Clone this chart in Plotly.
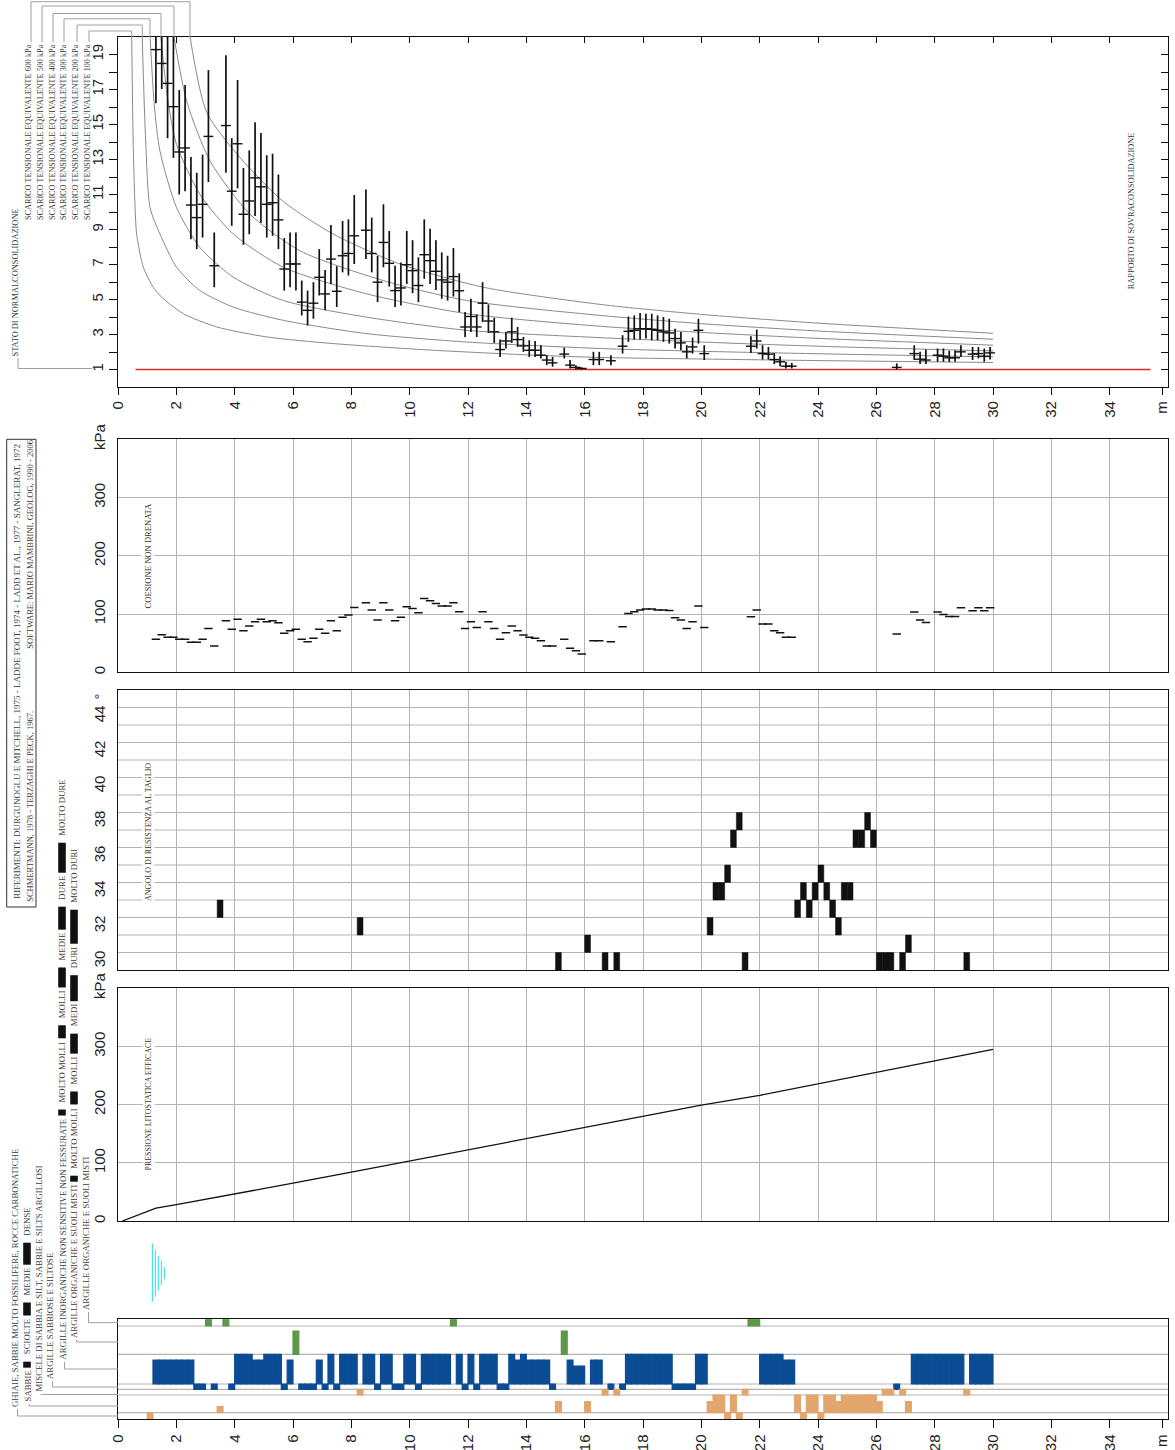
import plotly.graph_objects as go

W, H = 1175, 1450


def X(p):
    return p / W


def Y(p):
    return 1 - p / H


# ---------------- dati ----------------
# rapporto di sovraconsolidazione (OCR) con intervallo min/max
ocr_depth = [1.3, 1.5, 1.7, 1.9, 2.1, 2.3, 2.5, 2.7, 2.9, 3.1, 3.3, 3.7, 3.9, 4.1, 4.3, 4.5, 4.7, 4.9,
             5.1, 5.3, 5.5, 5.7, 5.9, 6.1, 6.3, 6.5, 6.7, 6.9, 7.1, 7.3, 7.5, 7.7, 7.9, 8.1, 8.5, 8.7,
             8.9, 9.1, 9.3, 9.5, 9.7, 9.9, 10.1, 10.3, 10.5, 10.7, 10.9, 11.1, 11.3, 11.5, 11.7, 11.9,
             12.1, 12.3, 12.5, 12.7, 12.9, 13.1, 13.3, 13.5, 13.7, 13.9, 14.1, 14.3, 14.5, 14.7, 14.9,
             15.3, 15.5, 15.7, 15.9, 16.3, 16.5, 16.9, 17.3, 17.5, 17.7, 17.9, 18.1, 18.3, 18.5, 18.7,
             18.9, 19.1, 19.3, 19.5, 19.7, 19.9, 20.1, 21.7, 21.9, 22.1, 22.3, 22.5, 22.7, 22.9, 23.1,
             26.7, 27.3, 27.5, 27.7, 28.1, 28.3, 28.5, 28.7, 28.9, 29.3, 29.5, 29.7, 29.9]
ocr_val = [19.28, 18.49, 17.35, 16.02, 13.43, 13.66, 10.40, 9.68, 10.44, 14.32, 6.93, 14.94, 11.19, 13.90,
           9.87, 10.63, 11.95, 11.44, 10.44, 10.53, 9.55, 6.74, 7.03, 7.03, 4.85, 4.38, 4.79, 6.27, 5.32,
           7.31, 5.47, 7.50, 7.63, 8.64, 8.96, 7.63, 5.99, 8.26, 7.07, 5.51, 5.66, 6.99, 6.65, 5.80, 7.56,
           7.22, 6.61, 6.12, 5.99, 6.31, 5.50, 3.43, 4.03, 3.43, 4.79, 3.77, 3.15, 2.14, 2.63, 3.15, 2.71,
           2.35, 2.10, 2.10, 1.82, 1.54, 1.38, 1.88, 1.25, 1.12, 1.06, 1.57, 1.57, 1.50, 2.33, 3.18, 3.24,
           3.33, 3.33, 3.30, 3.24, 3.15, 3.09, 2.77, 2.52, 2.01, 2.29, 3.24, 1.91, 2.33, 2.63, 1.91, 1.88,
           1.57, 1.44, 1.19, 1.19, 1.12, 1.91, 1.59, 1.54, 1.82, 1.76, 1.67, 1.67, 2.01, 1.88, 1.91, 1.76,
           1.95]
ocr_lo = [16.21, 17.03, 14.22, 13.09, 11.00, 11.19, 8.45, 7.88, 8.54, 11.71, 5.70, 12.24, 9.21, 11.35,
          8.13, 8.73, 9.77, 9.39, 8.54, 8.64, 7.88, 5.51, 5.70, 5.51, 4.09, 3.52, 3.90, 5.23, 4.38, 5.89,
          4.57, 6.55, 6.37, 7.03, 7.31, 6.55, 4.85, 6.84, 5.74, 4.57, 4.66, 5.89, 5.36, 4.85, 6.18, 5.89,
          5.55, 5.04, 4.94, 5.17, 4.28, 2.86, 3.15, 2.86, 3.71, 3.09, 2.52, 1.72, 2.20, 2.52, 2.29, 2.01,
          1.72, 1.72, 1.63, 1.25, 1.16, 1.63, 1.06, 1.00, 1.00, 1.25, 1.25, 1.25, 1.91, 2.58, 2.71, 2.71,
          2.77, 2.67, 2.67, 2.58, 2.48, 2.20, 2.10, 1.63, 1.91, 2.48, 1.54, 1.95, 2.20, 1.57, 1.57, 1.31,
          1.19, 1.06, 1.06, 1.00, 1.54, 1.31, 1.31, 1.44, 1.44, 1.44, 1.44, 1.72, 1.54, 1.63, 1.44, 1.57]
ocr_hi = [21.0, 21.0, 21.0, 21.0, 16.97, 17.26, 13.15, 12.24, 13.28, 18.11, 8.83, 18.96, 14.22, 17.54,
          12.52, 13.52, 15.13, 14.51, 13.24, 13.33, 12.14, 8.51, 8.83, 8.83, 6.08, 5.51, 5.99, 7.88, 6.69,
          9.26, 6.90, 9.49, 9.58, 10.97, 11.29, 9.68, 7.50, 10.44, 8.92, 6.93, 7.12, 8.92, 8.39, 7.41, 9.58,
          9.05, 8.39, 7.69, 7.50, 7.94, 6.50, 4.28, 5.04, 4.15, 5.99, 4.72, 3.96, 2.71, 3.15, 3.96, 3.43,
          2.86, 2.67, 2.63, 2.39, 1.82, 1.72, 2.25, 1.54, 1.25, 1.12, 2.01, 2.01, 1.82, 2.96, 4.03, 4.09,
          4.23, 4.19, 4.19, 4.09, 4.00, 3.90, 3.33, 3.15, 2.39, 2.82, 3.90, 2.39, 2.90, 3.28, 2.39, 2.29,
          1.95, 1.76, 1.44, 1.38, 1.35, 2.39, 2.01, 2.14, 2.20, 2.20, 2.07, 2.10, 2.39, 2.29, 2.29, 2.20,
          2.29]

# curve di scarico tensionale equivalente
sc100_depth = [0.47, 0.52, 0.58, 0.64, 0.87, 1.21, 1.50, 2.24, 3.39, 5.10, 7.39, 10.82, 14.25, 16.53, 20, 24, 30]
sc100_ocr = [20, 14.0, 10.5, 8.74, 6.84, 5.70, 5.13, 4.19, 3.43, 2.86, 2.48, 2.10, 1.82, 1.69, 1.60, 1.51, 1.40]
sc200_depth = [0.83, 0.95, 1.10, 1.44, 2.01, 2.81, 3.96, 5.67, 8.53, 11.96, 16.53, 20, 24, 30]
sc200_ocr = [20, 14.0, 10.24, 8.74, 6.84, 5.51, 4.56, 3.81, 3.05, 2.57, 2.20, 2.04, 1.90, 1.72]
sc300_depth = [1.10, 1.25, 1.44, 2.01, 2.81, 3.96, 5.67, 8.53, 11.96, 16.53, 20, 24, 30]
sc300_ocr = [20, 16.0, 13.47, 10.24, 7.97, 6.27, 4.94, 3.99, 3.24, 2.82, 2.57, 2.33, 2.06]
sc400_depth = [1.47, 1.70, 2.01, 2.81, 3.96, 5.67, 8.53, 11.96, 16.53, 20, 24, 30]
sc400_ocr = [20, 16.5, 13.85, 11.0, 8.73, 6.84, 5.32, 4.19, 3.47, 3.12, 2.78, 2.39]
sc500_depth = [1.92, 2.36, 3.16, 4.53, 6.24, 9.10, 11.96, 16.53, 20, 24, 30]
sc500_ocr = [20, 16.3, 12.9, 9.87, 7.78, 6.08, 4.94, 4.09, 3.62, 3.20, 2.73]
sc600_depth = [2.47, 3.04, 4.19, 5.67, 7.39, 9.67, 12.53, 16.53, 20, 24, 30]
sc600_ocr = [20, 15.7, 13.1, 10.6, 8.73, 7.03, 5.70, 4.72, 4.15, 3.65, 3.07]

# stato di normalconsolidazione
nc_depth = [0.6, 35.4]
nc_ocr = [1, 1]

# coesione non drenata (kPa)
cu_depth = [1.3, 1.5, 1.7, 1.9, 2.1, 2.3, 2.5, 2.7, 2.9, 3.1, 3.3, 3.7, 3.9, 4.1, 4.3, 4.5, 4.7, 4.9, 5.1,
            5.3, 5.5, 5.7, 5.9, 6.1, 6.3, 6.5, 6.7, 6.9, 7.1, 7.3, 7.5, 7.7, 7.9, 8.1, 8.5, 8.7, 8.9, 9.1,
            9.3, 9.5, 9.7, 9.9, 10.1, 10.3, 10.5, 10.7, 10.9, 11.1, 11.3, 11.5, 11.7, 11.9, 12.1, 12.3,
            12.5, 12.7, 12.9, 13.1, 13.3, 13.5, 13.7, 13.9, 14.1, 14.3, 14.5, 14.7, 14.9, 15.3, 15.5,
            15.7, 15.9, 16.3, 16.5, 16.9, 17.3, 17.5, 17.7, 17.9, 18.1, 18.3, 18.5, 18.7, 18.9, 19.1,
            19.3, 19.5, 19.7, 19.9, 20.1, 21.7, 21.9, 22.1, 22.3, 22.5, 22.7, 22.9, 23.1, 26.7, 27.3,
            27.5, 27.7, 28.1, 28.3, 28.5, 28.7, 28.9, 29.3, 29.5, 29.7, 29.9]
cu_val = [56.6, 64.6, 60, 60, 56.6, 56.6, 51.4, 51.4, 56.6, 75.4, 45.1, 88.6, 73.7, 90.9, 71.4, 79.4,
          86.9, 90.9, 86.9, 88.6, 85.1, 66.9, 71.4, 73.7, 56.6, 52.6, 58.3, 73.7, 66.9, 88.6, 71.4, 94.3,
          98.3, 111.4, 119.4, 106.9, 89.7, 119.4, 106.9, 88.6, 94.3, 112.6, 109.7, 102.3, 126.9, 122.9,
          118.3, 113.7, 113.7, 119.4, 104, 75.4, 86.9, 77.1, 104, 86.9, 75.4, 56.6, 68, 79.4, 71.4, 64,
          60, 58.3, 54.3, 45.1, 45.1, 56.6, 41.1, 37.1, 31.4, 54.3, 54.3, 52.6, 78.3, 101.1, 104, 107,
          108.6, 108.6, 107, 107, 106, 93.7, 89.7, 75.4, 86.9, 113.7, 77.1, 95.4, 106.9, 82.9, 82.9, 71.4,
          68, 60, 60, 65.7, 103.4, 89.7, 85.7, 103.4, 99.4, 96, 96, 110.9, 105.7, 110.9, 105.7, 110.9]

# angolo di resistenza al taglio (gradi)
phi_depth = [1.1, 3.5, 8.3, 15.1, 16.1, 16.7, 17.1, 20.3, 20.5, 20.7, 20.9, 21.1, 21.3, 21.5, 23.3, 23.5,
             23.7, 23.9, 24.1, 24.3, 24.5, 24.7, 24.9, 25.1, 25.3, 25.5, 25.7, 25.9, 26.1, 26.3, 26.5,
             26.9, 27.1, 29.1]
phi_val = [35, 33, 32, 30, 31, 30, 30, 32, 34, 34, 35, 37, 38, 30, 33, 34, 33, 34, 35, 34, 33, 32, 34, 34,
           37, 37, 38, 37, 30, 30, 30, 30, 31, 30]

# pressione litostatica efficace (kPa)
press_depth = [0.15, 1.3, 2, 4, 6, 8, 10, 12, 14, 16, 18, 20, 22, 24, 26, 28, 30]
press_val = [0, 22, 28, 46, 65, 84, 103, 122, 141, 160, 179, 199, 216, 236, 256, 276, 295]

# falda
water_depth = 1.18

# classificazione litologica: profondità e livello di consistenza per ciascuna fascia
cls_A_depth = [3.1, 3.7, 11.5, 21.7, 21.9]
cls_B_depth = [6.1, 15.3]
cls_C_depth = [1.3, 1.5, 1.7, 1.9, 2.1, 2.3, 2.5, 4.1, 4.3, 4.5, 4.7, 4.9, 5.1, 5.3, 5.5, 5.9, 6.9, 7.3,
               7.7, 7.9, 8.1, 8.5, 8.7, 9.1, 9.3, 9.9, 10.1, 10.5, 10.7, 10.9, 11.1, 11.3, 11.7, 12.1,
               12.5, 12.7, 12.9, 13.5, 13.7, 13.9, 14.1, 14.3, 14.5, 14.7, 15.5, 15.7, 15.9, 16.3, 16.5,
               17.5, 17.7, 17.9, 18.1, 18.3, 18.5, 18.7, 18.9, 19.9, 20.1, 22.1, 22.3, 22.5, 22.7, 22.9,
               23.1, 27.3, 27.5, 27.7, 27.9, 28.1, 28.3, 28.5, 28.7, 28.9, 29.3, 29.5, 29.7, 29.9]
cls_C_level = [2, 2, 2, 2, 2, 2, 2, 3, 3, 3, 2, 2, 3, 3, 3, 2, 2, 3,
               3, 3, 3, 3, 3, 3, 3, 3, 3, 3, 3, 3, 3, 3, 3, 3,
               3, 3, 3, 3, 2, 3, 2, 2, 2, 2, 2, 1, 1, 2, 2,
               3, 3, 3, 3, 3, 3, 3, 3, 3, 3, 3, 3, 3, 3, 2,
               2, 3, 3, 3, 3, 3, 3, 3, 3, 3, 3, 3, 3, 3]
cls_D_depth = [2.7, 2.9, 3.3, 3.9, 5.7, 6.3, 6.5, 6.7, 7.1, 7.5, 8.9, 9.5, 9.7, 10.3, 11.9, 12.3, 13.1,
               13.3, 14.9, 16.9, 17.3, 19.1, 19.3, 19.5, 19.7, 26.7]
cls_E_depth = [8.3, 16.7, 17.1, 21.5, 26.3, 26.5, 26.9, 29.1]
cls_F_depth = [3.5, 15.1, 16.1, 20.3, 20.5, 20.7, 21.1, 23.3, 23.7, 23.9, 24.3, 24.5, 24.7, 24.9, 25.1,
               25.3, 25.5, 25.7, 25.9, 26.1, 27.1]
cls_F_level = [1, 2, 2, 2, 3, 3, 3, 3, 3, 3, 3, 3, 2, 3, 3, 3, 3, 3, 3, 2, 2]
cls_G_depth = [1.1, 20.9, 21.3, 23.5, 24.1]

depth_ticks = list(range(0, 35, 2)) + [35.8]
depth_text = [str(v) for v in range(0, 35, 2)] + ["m"]

# ---------------- stile ----------------
INK = "#111111"
GRID = "#b4b4b4"
LEAD = "#a0a0a0"
CURVE = "#8a8a8a"
SERIF = "Liberation Serif"
SANS = "Liberation Sans"
TXT = "#3a3a3a"
BLUE = "#0b4c95"
GREEN = "#5d9846"
ORANGE = "#e2a66d"

XD = [X(118), X(1168)]
D1 = [Y(387), Y(37)]
D2 = [Y(672.3), Y(439.3)]
D3 = [Y(970), Y(690)]
D4 = [Y(1221), Y(988.3)]
D6 = [Y(1419.3), Y(1319.3)]

fig = go.Figure()

# --- pannello OCR
curves = [(sc100_depth, sc100_ocr), (sc200_depth, sc200_ocr), (sc300_depth, sc300_ocr),
          (sc400_depth, sc400_ocr), (sc500_depth, sc500_ocr), (sc600_depth, sc600_ocr)]
for d, o in curves:
    fig.add_trace(go.Scatter(x=d, y=o, mode="lines", line=dict(color=CURVE, width=1, shape="spline", smoothing=0.7),
                             xaxis="x", yaxis="y", hoverinfo="skip"))
fig.add_trace(go.Scatter(x=nc_depth, y=nc_ocr, mode="lines", line=dict(color="#d42a2a", width=1.3),
                         xaxis="x", yaxis="y"))
err_plus = [h - v for h, v in zip(ocr_hi, ocr_val)]
err_minus = [v - l for v, l in zip(ocr_val, ocr_lo)]
fig.add_trace(go.Scatter(
    x=ocr_depth, y=ocr_val, mode="markers", xaxis="x", yaxis="y",
    marker=dict(symbol="line-ew", size=7, line=dict(width=1.4, color=INK)),
    error_y=dict(type="data", array=err_plus, arrayminus=err_minus, color=INK, thickness=1.7, width=0)))

# assi ausiliari per le tacche interne
fig.add_trace(go.Scatter(x=[None], y=[None], xaxis="x7", yaxis="y", showlegend=False))
fig.add_trace(go.Scatter(x=[None], y=[None], xaxis="x", yaxis="y7", showlegend=False))

# --- coesione non drenata
fig.add_trace(go.Scatter(x=cu_depth, y=cu_val, mode="markers", xaxis="x2", yaxis="y2",
                         marker=dict(symbol="line-ew", size=6, line=dict(width=1.5, color=INK))))

# --- angolo di resistenza al taglio
fig.add_trace(go.Bar(x=phi_depth, y=[1] * len(phi_depth), base=[v - 0.5 for v in phi_val], width=0.2,
                     marker=dict(color=INK, line=dict(width=0.5, color=INK)), xaxis="x3", yaxis="y3"))

# --- pressione litostatica
fig.add_trace(go.Scatter(x=press_depth, y=press_val, mode="lines", line=dict(color=INK, width=1.3),
                         xaxis="x4", yaxis="y4"))

# --- classificazione
ROWS = {"G": (0, 6.6), "F": (6.6, 24.3), "E": (24.3, 30), "D": (30, 35.3),
        "C": (35.3, 65), "B": (65, 93.3), "A": (93.3, 100)}
C_TOP = {3: 65, 2: 59.3, 1: 53.3}
F_TOP = {3: 24.3, 2: 17.6, 1: 12.6}


def class_bars(depths, row, color, tops=None, levels=None):
    base = ROWS[row][0]
    if levels is None:
        heights = [ROWS[row][1] - base] * len(depths)
    else:
        heights = [tops[lv] - base for lv in levels]
    fig.add_trace(go.Bar(x=depths, y=heights, base=[base] * len(depths), width=0.2,
                         marker=dict(color=color, line=dict(width=1.2, color=color)),
                         xaxis="x6", yaxis="y6"))


class_bars(cls_A_depth, "A", GREEN)
class_bars(cls_B_depth, "B", GREEN, tops={2: 88.3}, levels=[2] * len(cls_B_depth))
class_bars(cls_C_depth, "C", BLUE, tops=C_TOP, levels=cls_C_level)
class_bars(cls_D_depth, "D", BLUE)
class_bars(cls_E_depth, "E", ORANGE)
class_bars(cls_F_depth, "F", ORANGE, tops=F_TOP, levels=cls_F_level)
class_bars(cls_G_depth, "G", ORANGE)

# ---------------- forme e testi ----------------
shapes = []
annotations = []


def seg(x0, y0, x1, y1, color=LEAD, width=1):
    shapes.append(dict(type="line", xref="paper", yref="paper", x0=X(x0), y0=Y(y0), x1=X(x1), y1=Y(y1),
                       line=dict(color=color, width=width)))


def poly(pts, **kw):
    for a, b in zip(pts[:-1], pts[1:]):
        seg(a[0], a[1], b[0], b[1], **kw)


def vtext(x, y, text, size, anchor="middle", color=TXT, bg=None, family=SERIF):
    a = dict(x=X(x), y=Y(y), xref="paper", yref="paper", text=text, showarrow=False, textangle=-90,
             xanchor="center", yanchor=anchor, font=dict(family=family, size=size, color=color),
             borderpad=1)
    if bg:
        a["bgcolor"] = bg
    annotations.append(a)


# larghezze (em) dei caratteri serif, per impaginare la legenda
CW = dict(A=.72, B=.67, C=.67, D=.72, E=.61, F=.56, G=.72, H=.72, I=.33, J=.39, K=.72, L=.61, M=.89,
          N=.72, O=.72, P=.56, Q=.72, R=.67, S=.56, T=.61, U=.72, V=.72, W=.94, X=.72, Y=.72, Z=.61)


def est_len(txt, size):
    w = 0.0
    for ch in txt:
        if ch in CW:
            w += CW[ch]
        elif ch == " ":
            w += 0.25
        elif ch in ",.:":
            w += 0.25
        elif ch == "-":
            w += 0.33
        elif ch.isdigit():
            w += 0.5
        else:
            w += 0.45
    return w * size + 2


# griglia orizzontale angolo (tra i valori interi)
for g in range(30, 45):
    shapes.append(dict(type="line", xref="x3 domain", yref="y3", x0=0, x1=1, y0=g + 0.5, y1=g + 0.5,
                       line=dict(color=GRID, width=1), layer="below"))
# separatori fasce classificazione
for g in [6.6, 24.3, 30, 35.3, 65, 93.3]:
    shapes.append(dict(type="line", xref="x6 domain", yref="y6", x0=0, x1=1, y0=g, y1=g,
                       line=dict(color=GRID, width=1.2), layer="below"))

# legenda curve OCR
vtext(15, 282.5, "STATO DI NORMALCONSOLIDAZIONE", 8.4)
poly([(18, 358), (18, 368.5), (92, 368.5)])
scar = [("600", 28, 31, 1.7, 190), ("500", 40, 42, 6.0, 174), ("400", 52, 53, 13.5, 161),
        ("300", 63, 64, 18.8, 150), ("200", 75, 77, 25, 142.3), ("100", 87, 89, 31, 131.7)]
for lab, xt, xl, yh, xc in scar:
    vtext(xt, 222, "SCARICO TENSIONALE EQUIVALENTE %s kPa" % lab, 8.2, anchor="bottom")
    poly([(xl, 42), (xl, yh), (xc, yh), (xc, 37)])

vtext(1131.4, 210.8, "RAPPORTO DI SOVRACONSOLIDAZIONE", 8.3)

# etichette pannelli
vtext(147.5, 555, "COESIONE NON DRENATA", 8.6, bg="white", color="#333")
vtext(148.4, 831.7, "ANGOLO DI RESISTENZA AL TAGLIO", 8.1, bg="white", color="#333")
vtext(148.4, 1104, "PRESSIONE LITOSTATICA EFFICACE", 7.9, bg="white", color="#333")

# riferimenti
shapes.append(dict(type="rect", xref="paper", yref="paper", x0=X(6.7), x1=X(36), y0=Y(907), y1=Y(439.3),
                   line=dict(color="#333", width=1)))
vtext(16.7, 671, "RIFERIMENTI: DURGUNOGLU E MITCHELL, 1975 - LADDE FOOT, 1974 - LADD ET AL., 1977 - SANGLERAT, 1972", 9.0)
vtext(29.3, 904, "SCHMERTMANN, 1978 - TERZAGHI E PECK, 1967.", 8.5, anchor="bottom")
vtext(29.3, 651, "SOFTWARE: MARIO MAMBRINI, GEOLOG, 1990 - 2006", 8.5, anchor="bottom")

# falda
xw = 118 + water_depth * 29.17
for i, (y0, y1) in enumerate([(1243.3, 1301.7), (1250, 1296.7), (1256, 1290.7), (1260.7, 1285), (1267.3, 1279.3)]):
    seg(xw + i * 3, y0, xw + i * 3, y1, color="#4fe3f0", width=1.3)

# legenda classificazione
LEG = 8.8
legend_cols = [
    (15, 1409, 1416, ["GHIAIE, SABBIE MOLTO FOSSILIFERE, ROCCE CARBONATICHE"]),
    (27, 1404, 1404, ["SABBIE", 6, "SCIOLTE", 13, "MEDIE", 22, "DENSE"]),
    (38.5, 1394, 1392.5, ["MISCELE DI SABBIA E SILT, SABBIE E SILTS ARGILLOSI"]),
    (50, 1381, 1387, ["ARGILLE SABBIOSE E SILTOSE"]),
    (62, 1362, 1369, ["ARGILLE INORGANICHE NON SENSITIVE NON FESSURATE", 6, "MOLTO MOLLI", 13, "MOLLI",
                      20, "MEDIE", 23, "DURE", 30, "MOLTO DURE"]),
    (74, 1340, 1340, ["ARGILLE ORGANICHE E SUOLI MISTI", 6, "MOLTO MOLLI", 13, "MOLLI", 20, "MEDI", 26,
                      "DURI", 34, "MOLTO DURI"]),
    (86, 1312, 1322.7, ["ARGILLE ORGANICHE E SUOLI MISTI"]),
]
for xc, yb, yr, parts in legend_cols:
    y = yb
    for p in parts:
        if isinstance(p, str):
            vtext(xc, y, p, LEG, anchor="bottom")
            y -= est_len(p, LEG) + 3
        else:
            shapes.append(dict(type="rect", xref="paper", yref="paper", x0=X(xc - 3.8), x1=X(xc + 3.8),
                               y0=Y(y), y1=Y(y - p), fillcolor=INK, line=dict(width=0)))
            y -= p + 5
    if yr > yb:
        poly([(xc + 2.5, yb), (xc + 2.5, yr), (118, yr)])
    else:
        poly([(xc + 2.5, yb), (xc + 2.5, yr + 2), (118, yr + 2)])

# ---------------- assi ----------------
tickfont = dict(family=SANS, size=15, color="#222")
frame = dict(showline=True, linecolor=INK, linewidth=1.3, mirror=True, zeroline=False)

layout_axes = dict(
    xaxis=dict(domain=XD, anchor="y", range=[0, 36], tickmode="array", tickvals=depth_ticks,
               ticktext=depth_text, tickangle=-90, ticks="outside", ticklen=7, tickcolor=INK,
               ticklabeloverflow="allow", showgrid=False, tickfont=tickfont, **frame),
    yaxis=dict(domain=D1, anchor="x", range=[0, 20], tickmode="array", tickvals=list(range(1, 20)),
               ticktext=[str(v) if v % 2 else "" for v in range(1, 20)], tickangle=-90, ticks="outside",
               ticklen=8, tickcolor=INK, showgrid=False, tickfont=tickfont, **frame),
    xaxis7=dict(overlaying="x", side="top", anchor="y", range=[0, 36], tickmode="array",
                tickvals=list(range(2, 36, 2)), ticks="inside", ticklen=6, tickcolor=INK,
                showticklabels=False, showgrid=False, zeroline=False, showline=False),
    yaxis7=dict(overlaying="y", side="right", anchor="x", range=[0, 20], tickmode="array",
                tickvals=list(range(1, 20)), ticks="inside", ticklen=7, tickcolor=INK,
                showticklabels=False, showgrid=False, zeroline=False, showline=False),
)
for n, dom, rng, tv, tt in [
    (2, D2, [0, 400], [0, 100, 200, 300, 400], ["0", "100", "200", "300", "kPa"]),
    (3, D3, [29.5, 45.5], list(range(30, 46)), [str(v) if v % 2 == 0 else "" for v in range(30, 45)] + ["°"]),
    (4, D4, [0, 400], [0, 100, 200, 300, 400], ["0", "100", "200", "300", "kPa"]),
]:
    layout_axes["xaxis%d" % n] = dict(domain=XD, anchor="y%d" % n, range=[0, 36], tickmode="array",
                                      tickvals=list(range(0, 37, 2)), showticklabels=False, ticks="",
                                      showgrid=True, gridcolor=GRID, gridwidth=1, **frame)
    layout_axes["yaxis%d" % n] = dict(domain=dom, anchor="x%d" % n, range=rng, tickmode="array",
                                      tickvals=tv, ticktext=tt, tickangle=-90, ticks="outside", ticklen=6,
                                      tickcolor="rgba(0,0,0,0)", showgrid=(n != 3), gridcolor=GRID,
                                      gridwidth=1, tickfont=tickfont, **frame)
layout_axes["xaxis6"] = dict(domain=XD, anchor="y6", range=[0, 36], tickmode="array", tickvals=depth_ticks,
                             ticktext=depth_text, tickangle=-90, ticks="outside", ticklen=8, tickcolor=INK,
                             ticklabeloverflow="allow", showgrid=False, tickfont=tickfont, **frame)
layout_axes["yaxis6"] = dict(domain=D6, anchor="x6", range=[0, 100], showticklabels=False, ticks="",
                             showgrid=False, **frame)

fig.update_layout(
    width=W, height=H, autosize=False,
    margin=dict(l=0, r=0, t=0, b=0, pad=0, autoexpand=False),
    paper_bgcolor="white", plot_bgcolor="white",
    showlegend=False, barmode="overlay",
    shapes=shapes, annotations=annotations,
    **layout_axes,
)

fig.write_html("out.html", config={"displayModeBar": False},
               post_script="document.body.style.margin='0px';")
